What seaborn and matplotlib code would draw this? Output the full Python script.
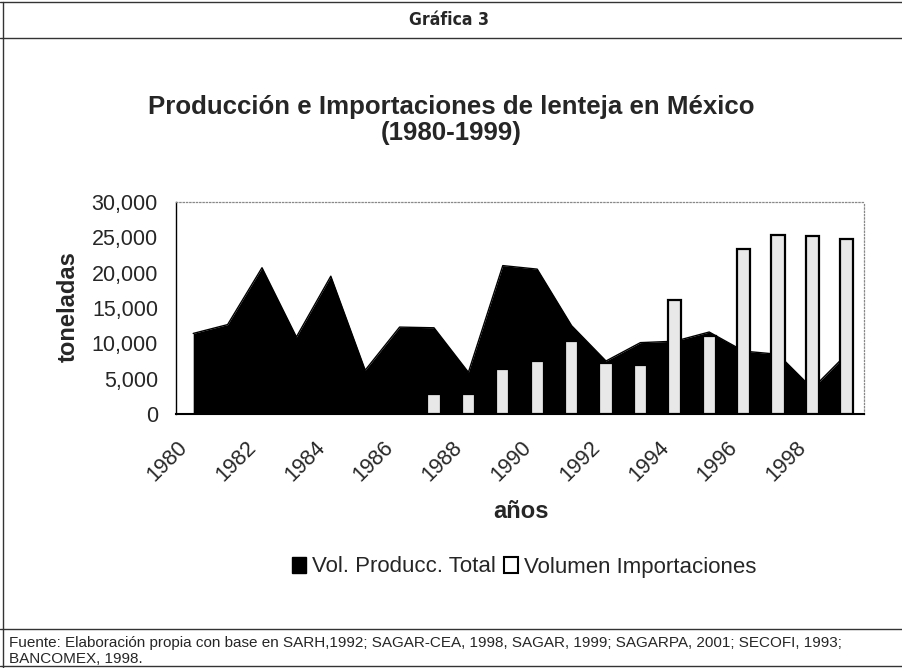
import matplotlib
matplotlib.use("Agg")
import matplotlib.pyplot as plt
import seaborn as sns
import pandas as pd
from matplotlib.patches import Patch
from matplotlib.lines import Line2D
from matplotlib import font_manager
from matplotlib.font_manager import FontProperties
from matplotlib.transforms import ScaledTranslation

# ---------------- data ----------------
years = list(range(1980, 2000))
produccion = [11400, 12650, 20700, 10900, 19500, 6200, 12300, 12200, 5900, 21000,
              20500, 12500, 7500, 10100, 10300, 11600, 8900, 8450, 3600, 8500]
imp_years = list(range(1987, 2000))
importaciones = [2900, 2900, 6400, 7500, 10300, 7200, 7000, 16200, 11000, 23400,
                 25400, 25200, 24700]
xtick_years = list(range(1980, 2000, 2))
ytick_vals = [0, 5000, 10000, 15000, 20000, 25000, 30000]

title1 = "Producción e Importaciones de lenteja en México"
title2 = "(1980-1999)"
header = "Gráfica 3"
ylab = "toneladas"
xlab = "años"
leg_labels = ["Vol. Producc. Total", "Volumen Importaciones"]
foot1 = ("Fuente: Elaboración propia con base en SARH,1992; SAGAR-CEA, 1998, SAGAR, 1999; "
         "SAGARPA, 2001; SECOFI, 1993;")
foot2 = "BANCOMEX, 1998."

# ---------------- style ----------------
sns.set_style("white")
avail = {f.name for f in font_manager.fontManager.ttflist}
main_font = "Liberation Sans" if "Liberation Sans" in avail else "DejaVu Sans"
plt.rcParams["font.family"] = [main_font, "DejaVu Sans"]


def wnum(w):
    if isinstance(w, str):
        return {"normal": 400, "regular": 400, "bold": 700}.get(w.lower(), 400)
    return int(w)


def find_narrow(bold):
    want = 700 if bold else 400
    cands = []
    for f in font_manager.fontManager.ttflist:
        if f.style != "normal":
            continue
        if abs(wnum(f.weight) - want) > 100:
            continue
        if f.name == "Liberation Sans Narrow":
            cands.append((0, f.fname))
        elif "condensed" in str(f.stretch).lower() or "Condensed" in f.fname or "Narrow" in f.fname:
            if "Mono" in f.fname or "Serif" in f.fname:
                continue
            cands.append((1, f.fname))
    if cands:
        cands.sort()
        return FontProperties(fname=cands[0][1])
    return FontProperties(family=main_font, weight="bold" if bold else "normal")


fp_narrow_b = find_narrow(True)

W, H = 902, 668
fig = plt.figure(figsize=(W / 100, H / 100), dpi=100)
fig.patch.set_facecolor("white")


def fx(px):
    return px / W


def fy(py):
    return 1 - py / H


L, R, T, B = 176, 864, 202, 414
ax = fig.add_axes([fx(L), fy(B), (R - L) / W, (B - T) / H])
ax.set_facecolor("white")

# production area
ax.fill_between(years, 0, produccion, color="black", linewidth=0, zorder=1)
sns.lineplot(x=years, y=produccion, color="black", linewidth=1, ax=ax, zorder=2)

# imports bars
df_imp = pd.DataFrame({"year": imp_years, "imp": importaciones})
sns.barplot(data=df_imp, x="year", y="imp", native_scale=True, width=0.38,
            color="#e8e8e8", saturation=1, edgecolor="black", linewidth=1.6,
            ax=ax, zorder=3)

ax.set_xlim(1979.5, 1999.5)
ax.set_ylim(0, 30000)
ax.set_yticks(ytick_vals)
ax.set_yticklabels([f"{v:,}" for v in ytick_vals], fontsize=15.5)
ax.set_xticks(xtick_years)
ax.set_xticklabels([str(y) for y in xtick_years], fontsize=15.5, rotation=45,
                   ha="right", va="center", rotation_mode="anchor")
ax.tick_params(axis="x", length=0, pad=22)
ax.tick_params(axis="y", length=4, width=0.8, direction="out", pad=9, color="black")
shift = ScaledTranslation(-9 / 100, 0, fig.dpi_scale_trans)
for lab in ax.get_xticklabels():
    lab.set_transform(lab.get_transform() + shift)
ax.set_xlabel("")
ax.set_ylabel("")
for s in ["top", "right"]:
    ax.spines[s].set_color("#888888")
    ax.spines[s].set_linestyle(":")
    ax.spines[s].set_linewidth(0.9)
ax.spines["left"].set_color("black")
ax.spines["left"].set_linewidth(1.0)
ax.spines["bottom"].set_color("black")
ax.spines["bottom"].set_linewidth(1.5)
ax.grid(False)

renderer = fig.canvas.get_renderer()


def fit_w(t, target):
    bb = t.get_window_extent(renderer)
    t.set_fontsize(t.get_fontsize() * target / bb.width)


# texts
t_head = fig.text(fx(449), fy(20), header, ha="center", va="center",
                  fontproperties=fp_narrow_b.copy())
t_head.set_fontsize(13)
fit_w(t_head, 80)
t1 = fig.text(fx(451), fy(107), title1, ha="center", va="center",
              fontsize=17, fontweight="bold")
fit_w(t1, 607)
t2 = fig.text(fx(451), fy(133), title2, ha="center", va="center",
              fontsize=t1.get_fontsize(), fontweight="bold")
fig.text(fx(68), fy(307), ylab, ha="center", va="center", rotation=90,
         fontsize=t1.get_fontsize() * 0.92, fontweight="bold")
fig.text(fx(521), fy(512), xlab, ha="center", va="center",
         fontsize=t1.get_fontsize() * 0.92, fontweight="bold")

handles = [Patch(facecolor="black", edgecolor="black"),
           Patch(facecolor="white", edgecolor="black", linewidth=1.5)]
fig.legend(handles, leg_labels, loc="center", bbox_to_anchor=(fx(524), fy(567)),
           ncol=2, frameon=False, fontsize=16, handlelength=0.65, handleheight=0.75,
           handletextpad=0.25, columnspacing=0.35, borderpad=0)

tf1 = fig.text(fx(9), fy(643), foot1, ha="left", va="center", fontsize=10)
fit_w(tf1, 882)
tf1.set_fontsize(min(tf1.get_fontsize(), 11))
tf2 = fig.text(fx(9), fy(659), foot2, ha="left", va="center",
               fontsize=tf1.get_fontsize())

# frame lines
lc = "#333333"
for y in [2, 38, 629, 666]:
    fig.add_artist(Line2D([0, 1], [fy(y), fy(y)], color=lc, linewidth=1.0,
                          transform=fig.transFigure))
fig.add_artist(Line2D([fx(3), fx(3)], [fy(2), fy(668)], color=lc, linewidth=1.0,
                      transform=fig.transFigure))

fig.savefig("out.png", dpi=100, facecolor="white")
